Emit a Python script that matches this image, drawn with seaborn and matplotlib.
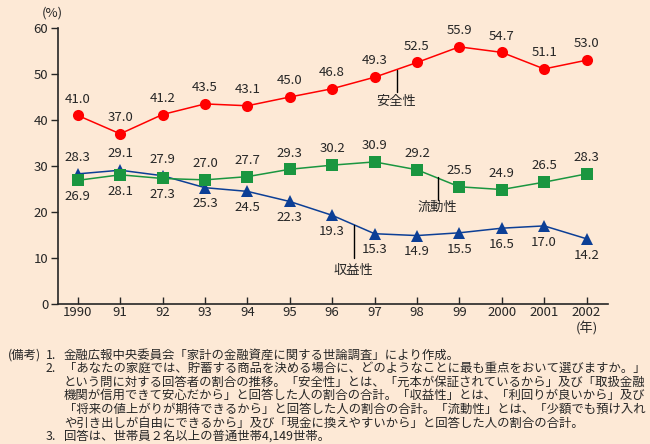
import numpy as np
import pandas as pd
import seaborn as sns
import matplotlib.pyplot as plt

# data (percent of respondents)
years = ['1990', '91', '92', '93', '94', '95', '96', '97', '98', '99', '2000', '2001', '2002']
safety = [41.0, 37.0, 41.2, 43.5, 43.1, 45.0, 46.8, 49.3, 52.5, 55.9, 54.7, 51.1, 53.0]
liquidity = [26.9, 28.1, 27.3, 27.0, 27.7, 29.3, 30.2, 30.9, 29.2, 25.5, 24.9, 26.5, 28.3]
profit = [28.3, 29.1, 27.9, 25.3, 24.5, 22.3, 19.3, 15.3, 14.9, 15.5, 16.5, 17.0, 14.2]
yticks = [0, 10, 20, 30, 40, 50, 60]

notes = [
    ('(備考)', '1.', '金融広報中央委員会「家計の金融資産に関する世論調査」により作成。'),
    ('', '2.', '「あなたの家庭では、貯蓄する商品を決める場合に、どのようなことに最も重点をおいて選びますか。」'),
    ('', '', 'という問に対する回答者の割合の推移。「安全性」とは、「元本が保証されているから」及び「取扱金融'),
    ('', '', '機関が信用できて安心だから」と回答した人の割合の合計。「収益性」とは、「利回りが良いから」及び'),
    ('', '', '「将来の値上がりが期待できるから」と回答した人の割合の合計。「流動性」とは、「少額でも預け入れ'),
    ('', '', 'や引き出しが自由にできるから」及び「現金に換えやすいから」と回答した人の割合の合計。'),
    ('', '3.', '回答は、世帯員２名以上の普通世帯4,149世帯。'),
]

bg = '#fde9d6'
sns.set_style('ticks')
plt.rcParams['font.family'] = ['Noto Sans CJK JP', 'DejaVu Sans']

idx = np.arange(len(years))
df = pd.DataFrame({'x': idx, 'safety': safety, 'liquidity': liquidity, 'profit': profit})

fig = plt.figure(figsize=(6.5, 4.44), dpi=100, facecolor=bg)
ax = fig.add_axes([0.089, 0.315, 0.846, 0.622])
ax.set_facecolor(bg)

red, green, blue = '#ff0000', '#1a9640', '#0c3f96'
sns.lineplot(data=df, x='x', y='profit', ax=ax, color=blue, marker='^', markersize=8.5,
             markeredgewidth=0, linewidth=1.1)
sns.lineplot(data=df, x='x', y='liquidity', ax=ax, color=green, marker='s', markersize=8,
             markeredgewidth=0, linewidth=1.1)
sns.lineplot(data=df, x='x', y='safety', ax=ax, color=red, marker='o', markersize=8,
             markeredgewidth=0, linewidth=1.1)

fs = 9.5
for i in idx:
    ax.annotate(f'{safety[i]:.1f}', (i, safety[i]), xytext=(0, 7), textcoords='offset points',
                ha='center', va='bottom', fontsize=fs)
    off = -7 if i < 3 else 7
    ax.annotate(f'{liquidity[i]:.1f}', (i, liquidity[i]), xytext=(0, off), textcoords='offset points',
                ha='center', va='top' if off < 0 else 'bottom', fontsize=fs)
    off = 7 if i < 3 else -7
    ax.annotate(f'{profit[i]:.1f}', (i, profit[i]), xytext=(0, off), textcoords='offset points',
                ha='center', va='top' if off < 0 else 'bottom', fontsize=fs)

# series name callouts
for name, xp, y0, y1, yt in [('安全性', 7.52, 50.9, 46.1, 44.0),
                             ('流動性', 8.49, 27.6, 22.6, 21.0),
                             ('収益性', 6.51, 17.2, 10.0, 7.3)]:
    ax.plot([xp, xp], [y0, y1], color='black', linewidth=1.0)
    ax.text(xp, yt, name, ha='center', va='center', fontsize=fs)

ax.set_xlim(-0.47, 12.5)
ax.set_ylim(0, 60)
ax.set_xticks(idx)
ax.set_xticklabels(years, fontsize=fs)
ax.set_yticks(yticks)
ax.set_yticklabels([str(v) for v in yticks], fontsize=fs)
ax.tick_params(axis='x', direction='in', length=5, width=1, pad=1.5)
ax.tick_params(axis='y', direction='out', length=5, width=1, pad=2)
ax.set_xlabel('')
ax.set_ylabel('')
sns.despine(ax=ax)
for s in ['left', 'bottom']:
    ax.spines[s].set_linewidth(1.2)

fig.text(52 / 650, 1 - 13 / 444, '(%)', ha='center', va='center', fontsize=fs)
fig.text(587 / 650, 1 - 328 / 444, '(年)', ha='center', va='center', fontsize=fs)

# notes
nfs = 8.9
for k, (head, num, body) in enumerate(notes):
    y = 1 - (355 + k * 13.6) / 444
    if head:
        fig.text(8 / 650, y, head, ha='left', va='center', fontsize=nfs)
    if num:
        fig.text(46 / 650, y, num, ha='left', va='center', fontsize=nfs)
    fig.text(64 / 650, y, body, ha='left', va='center', fontsize=nfs)

plt.savefig('out.png', dpi=100, facecolor=bg)
